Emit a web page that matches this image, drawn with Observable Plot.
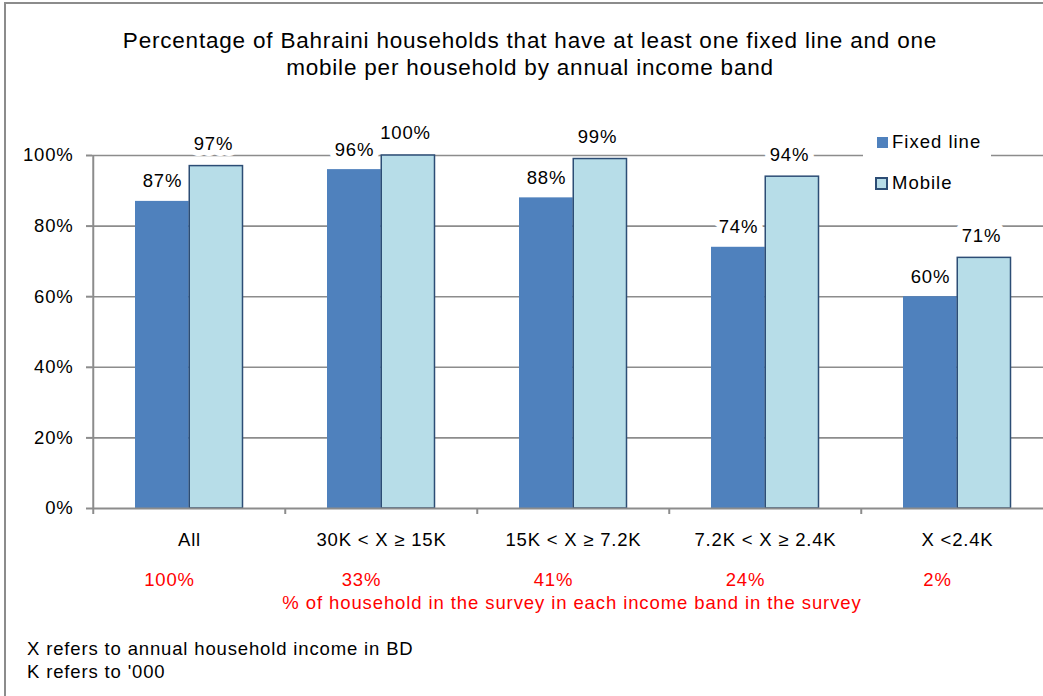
<!DOCTYPE html>
<html>
<head>
<meta charset="utf-8">
<script src="https://cdn.jsdelivr.net/npm/d3@7"></script>
<script src="https://cdn.jsdelivr.net/npm/@observablehq/plot@0.6"></script>
<style>
  html, body { margin: 0; padding: 0; background: #fff; overflow: hidden; }
  #wrap { position: relative; width: 1043px; height: 696px; overflow: hidden; background: #fff;
          font-family: "Liberation Sans", Arial, sans-serif; color: #000; }
  #border { position: absolute; left: 4px; top: 2px; width: 1100px; height: 800px;
            border-left: 2px solid #8c8c8c; border-top: 2px solid #8c8c8c; }
  #title { position: absolute; left: 0; top: 27px; width: 1060px; text-align: center;
           font-size: 22.5px; line-height: 27px; letter-spacing: 0.8px; }
  #chart { position: absolute; left: 0; top: 0; }
  #legend { position: absolute; left: 863px; top: 128px; width: 128px; height: 70px; background: #fff;
            font-size: 18.5px; letter-spacing: 1px; }
  .item { position: absolute; left: 14px; display: flex; align-items: center; white-space: nowrap; }
  .sw { width: 11px; height: 11px; margin-right: 4px; box-sizing: border-box; }
  #note { position: absolute; left: 0; top: 592px; width: 1144px; text-align: center; color: #ff0000;
          font-size: 18.5px; letter-spacing: 0.9px; }
  #foot { position: absolute; left: 27px; top: 637px; font-size: 18.5px; line-height: 23px; letter-spacing: 0.85px; }
</style>
</head>
<body>
<div id="wrap">
  <div id="border"></div>
  <div id="chart"></div>
  <div id="title">Percentage of Bahraini households that have at least one fixed line and one<br>mobile per household by annual income band</div>
  <div id="legend"></div>
  <div id="note"></div>
  <div id="foot">X refers to annual household income in BD<br>K refers to '000</div>
</div>
<script>
const categories = ["All", "30K < X ≥ 15K", "15K < X ≥ 7.2K", "7.2K < X ≥ 2.4K", "X <2.4K"];
const fixedLine = [87, 96, 88, 74, 60];
const mobile = [97, 100, 99, 94, 71];
const householdShare = [100, 33, 41, 24, 2];
const seriesNames = ["Fixed line", "Mobile"];
const seriesColors = ["#4f81bd", "#b7dde8"];
const mobileStroke = "#2c4d75";
const yTicks = [0, 20, 40, 60, 80, 100];
const noteText = "% of household in the survey in each income band  in the survey";

const fixedData = categories.map((c, i) => ({cat: c, v: fixedLine[i]}));
const mobileData = categories.map((c, i) => ({cat: c, v: mobile[i]}));
const shareData = categories.map((c, i) => ({cat: c, s: householdShare[i]}));

const grid = "#8c8c8c";
const chart = Plot.plot({
  width: 1100,
  height: 696,
  marginLeft: 92,
  marginRight: 45.5,
  marginTop: 155,
  marginBottom: 188,
  style: {maxWidth: "none", background: "transparent", fontFamily: "'Liberation Sans', Arial, sans-serif", fontSize: "18.5px", color: "#000", overflow: "visible", letterSpacing: "0.8px"},
  x: {domain: categories, padding: 0, axis: null, label: null},
  y: {domain: [0, 100], axis: null, label: null},
  marks: [
    Plot.ruleY(yTicks.filter(d => d > 0), {stroke: grid, strokeWidth: 1.6}),
    Plot.barY(fixedData, {x: "cat", y: "v", fill: seriesColors[0], insetLeft: 42, insetRight: 96.25}),
    Plot.barY(mobileData, {x: "cat", y: "v", fill: seriesColors[1], stroke: mobileStroke, strokeWidth: 1.5, insetLeft: 96.25, insetRight: 42.5}),
    Plot.ruleY([0], {stroke: grid, strokeWidth: 2}),
    Plot.ruleX([categories[0]], {x: d => d, dx: -96.25, stroke: grid, strokeWidth: 2}),
    Plot.ruleX(categories, {x: d => d, y1: 0, y2: 0, dx: -96.25, insetBottom: -6, stroke: grid, strokeWidth: 2}),
    Plot.axisY({ticks: yTicks, tickFormat: d => d + "%", tickSize: 6, tickPadding: 13, stroke: grid, strokeWidth: 2, fontSize: 18.5, fill: "#000", label: null}),
    Plot.axisX({tickSize: 0, tickPadding: 24, fontSize: 18.5, fill: "#000", label: null, letterSpacing: "1.5px"}),
    Plot.text(fixedData, {x: "cat", y: "v", dx: -27, dy: -20, text: d => d.v + "%", fontSize: 18.5, fill: "#000", stroke: "#fff", strokeWidth: 12, paintOrder: "stroke", lineAnchor: "middle"}),
    Plot.text(mobileData, {x: "cat", y: "v", dx: 24, dy: -22, text: d => d.v + "%", fontSize: 18.5, fill: "#000", stroke: "#fff", strokeWidth: 12, paintOrder: "stroke", lineAnchor: "middle"}),
    Plot.text(shareData, {x: "cat", y: 0, dx: -20, dy: 72, text: d => d.s + "%", fontSize: 18.5, fill: "#ff0000", lineAnchor: "middle"})
  ]
});
document.getElementById("chart").appendChild(chart);

const legend = document.getElementById("legend");
seriesNames.forEach((name, i) => {
  const item = document.createElement("div");
  item.className = "item";
  item.style.top = (i === 0 ? 3 : 44) + "px";
  const sw = document.createElement("div");
  sw.className = "sw";
  sw.style.background = seriesColors[i];
  if (i === 1) { sw.style.border = "2px solid " + mobileStroke; sw.style.width = "13px"; sw.style.height = "13px"; sw.style.marginLeft = "-2px"; }
  const label = document.createElement("span");
  label.textContent = name;
  item.appendChild(sw);
  item.appendChild(label);
  legend.appendChild(item);
});
document.getElementById("note").textContent = noteText;
</script>
</body>
</html>
